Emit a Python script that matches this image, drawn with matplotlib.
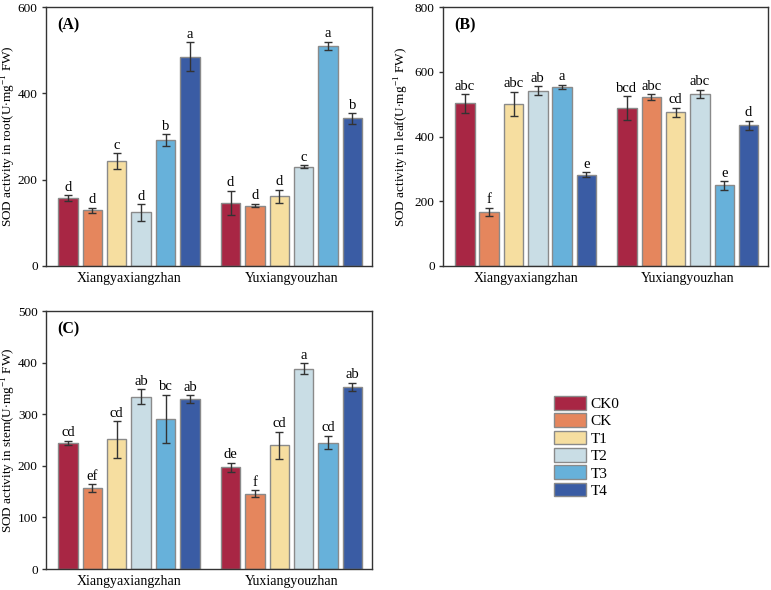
import numpy as np
import matplotlib
matplotlib.use('Agg')
import matplotlib.pyplot as plt
from matplotlib.patches import Patch

plt.rcParams['font.family'] = ['Liberation Serif', 'DejaVu Serif']
plt.rcParams['mathtext.fontset'] = 'custom'
plt.rcParams['mathtext.rm'] = 'Liberation Serif'

cultivars = ['Xiangyaxiangzhan', 'Yuxiangyouzhan']
treatments = ['CK0', 'CK', 'T1', 'T2', 'T3', 'T4']
colors = ['#A82644', '#E5865D', '#F6DEA0', '#C9DDE5', '#67B1DA', '#3A5CA4']

# root SOD (rows: treatments, cols: cultivars)
root_mean = [[157, 146], [129, 140], [243, 162], [124, 230], [292, 510], [485, 342]]
root_err = [[7, 28], [6, 4], [18, 15], [19, 3], [13, 10], [33, 12]]
root_lab = [['d', 'd'], ['d', 'd'], ['c', 'd'], ['d', 'c'], ['b', 'a'], ['a', 'b']]

# leaf SOD
leaf_mean = [[502, 487], [166, 522], [500, 475], [541, 531], [553, 249], [282, 434]]
leaf_err = [[28, 37], [13, 9], [38, 14], [14, 13], [7, 13], [8, 14]]
leaf_lab = [['abc', 'bcd'], ['f', 'abc'], ['abc', 'cd'], ['ab', 'abc'], ['a', 'e'], ['e', 'd']]

# stem SOD
stem_mean = [[245, 197], [157, 146], [251, 240], [334, 388], [291, 245], [329, 353]]
stem_err = [[4, 9], [7, 7], [35, 26], [14, 11], [47, 13], [8, 8]]
stem_lab = [['cd', 'de'], ['ef', 'f'], ['cd', 'cd'], ['ab', 'a'], ['bc', 'cd'], ['ab', 'ab']]


def draw_panel(ax, means, errs, labels, ymax, step, ylabel, tag, labx):
    x = np.arange(len(cultivars))
    width = 0.12
    gap = 0.15
    for i, t in enumerate(treatments):
        pos = x + (i - 2.5) * gap
        m = np.array(means[i])
        e = np.array(errs[i])
        ax.bar(pos, m, width, color=colors[i], edgecolor='#8a8a8a', linewidth=1.0, zorder=2)
        ax.errorbar(pos, m, yerr=e, fmt='none', ecolor='#333333', elinewidth=1.0,
                    capsize=3, capthick=1.0, zorder=3)
        for p, v, ee, lab in zip(pos, m, e, labels[i]):
            ax.text(p, v + ee + ymax * 0.006, lab, ha='center', va='bottom', fontsize=10.5)
    ax.set_xlim(-0.51, 1.495)
    ax.set_ylim(0, ymax)
    ax.set_yticks(np.arange(0, ymax + 1, step))
    ax.set_xticks(x)
    ax.set_xticklabels(cultivars, fontsize=10)
    ax.tick_params(axis='x', length=0, pad=4)
    ax.tick_params(axis='y', labelsize=9.5, length=3, width=1, pad=3, color='#333333')
    ax.set_ylabel(ylabel, fontsize=9.5)
    ax.yaxis.set_label_coords(labx, 0.5)
    for s in ax.spines.values():
        s.set_color('#333333')
        s.set_linewidth(1.0)
    ax.text(0.035, 0.93, tag, transform=ax.transAxes, fontsize=11.5, fontweight='bold',
            ha='left', va='center')


fig = plt.figure(figsize=(7.71, 5.9), dpi=100)
W, H = 771, 590
axA = fig.add_axes([46 / W, 1 - 266 / H, 326 / W, 259 / H])
axB = fig.add_axes([443 / W, 1 - 266 / H, 325 / W, 259 / H])
axC = fig.add_axes([46 / W, 1 - 569 / H, 326 / W, 258 / H])

draw_panel(axA, root_mean, root_err, root_lab, 600, 200,
           r'SOD activity in root(U$\cdot$mg$^{-1}$ FW)', '(A)', -0.086)
draw_panel(axB, leaf_mean, leaf_err, leaf_lab, 800, 200,
           r'SOD activity in leaf(U$\cdot$mg$^{-1}$ FW)', '(B)', -0.098)
draw_panel(axC, stem_mean, stem_err, stem_lab, 500, 100,
           r'SOD activity in stem(U$\cdot$mg$^{-1}$ FW)', '(C)', -0.086)

handles = [Patch(facecolor=c, edgecolor='#8a8a8a', linewidth=1.0) for c in colors]
fig.legend(handles, treatments, loc='upper left', bbox_to_anchor=(554 / W, 1 - 396 / H),
           frameon=False, fontsize=11, handlelength=2.1, handleheight=1.0,
           labelspacing=0.15, handletextpad=0.3, borderpad=0, borderaxespad=0)

fig.savefig('out.png', dpi=100)
